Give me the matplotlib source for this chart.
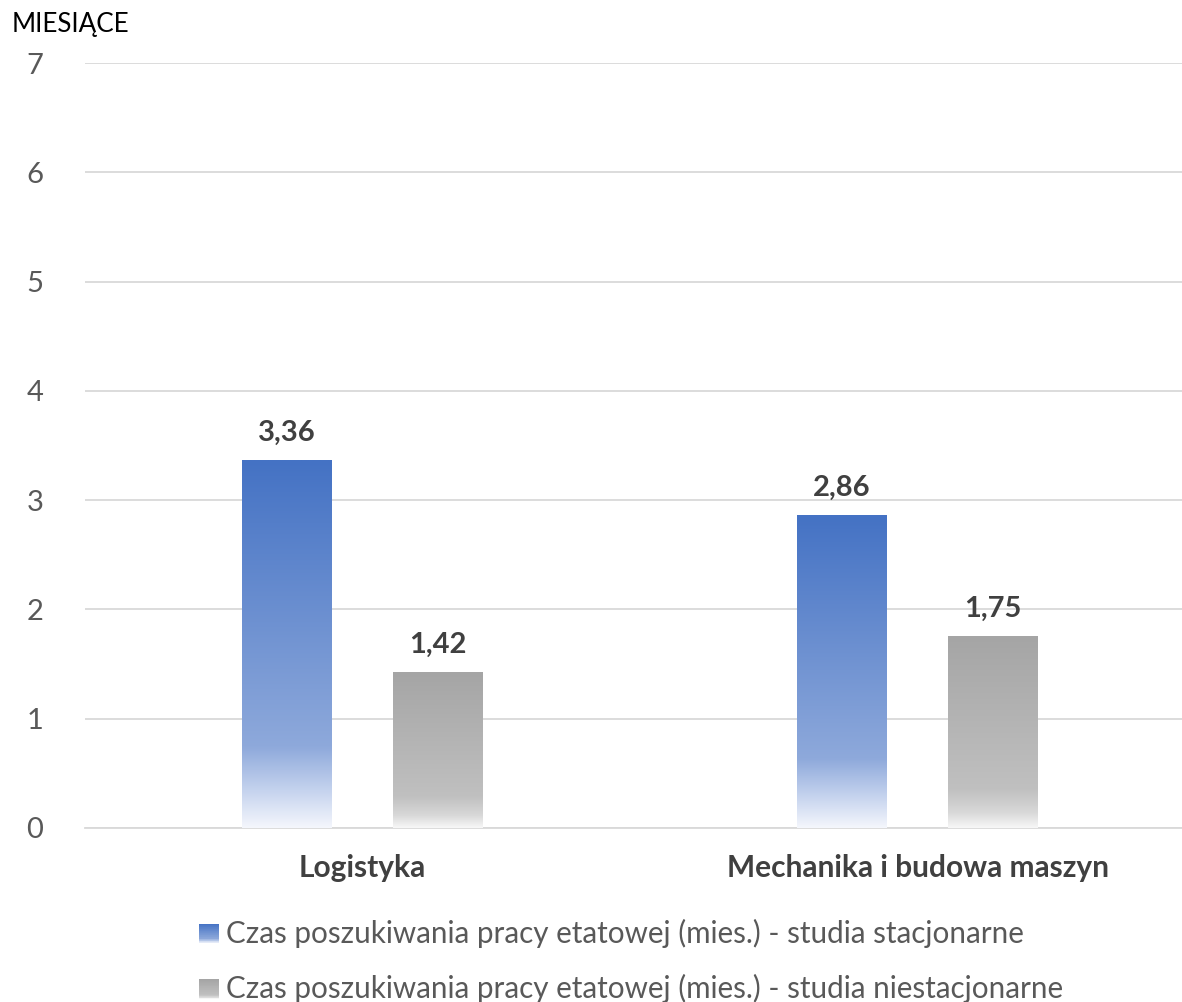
import numpy as np
import matplotlib.pyplot as plt
from matplotlib.colors import to_rgb
from matplotlib.patches import Rectangle, Patch
from matplotlib.legend_handler import HandlerBase

plt.rcParams['font.family'] = ['Lato', 'DejaVu Sans']

# data
categories = ["Logistyka", "Mechanika i budowa maszyn"]
stacjonarne = [3.36, 2.86]
niestacjonarne = [1.42, 1.75]
series_names = ["Czas poszukiwania pracy etatowej (mies.) - studia stacjonarne",
                "Czas poszukiwania pracy etatowej (mies.) - studia niestacjonarne"]

# gradient stops (fraction from bottom, colour)
blue_stops = [(0.0, "#F4F6FC"), (0.1, "#C5D3EE"), (0.22, "#8EA9DB"), (1.0, "#4472C4")]
gray_stops = [(0.0, "#F7F7F7"), (0.08, "#D8D8D8"), (0.2, "#C0C0C0"), (1.0, "#A5A5A5")]


def gradient(stops, n=200):
    pos = np.array([s[0] for s in stops])
    cols = np.array([to_rgb(s[1]) for s in stops])
    t = np.linspace(0, 1, n)
    rgb = np.stack([np.interp(t, pos, cols[:, i]) for i in range(3)], axis=1)
    return rgb[::-1][:, None, :]  # top row first


def grad_bar(ax, x, w, h, stops):
    ax.imshow(gradient(stops), extent=(x - w / 2, x + w / 2, 0, h),
              aspect='auto', zorder=3, interpolation='bilinear')


class GradHandler(HandlerBase):
    def __init__(self, stops):
        super().__init__()
        self.stops = stops

    def create_artists(self, legend, orig, xd, yd, width, height, fontsize, trans):
        size = min(width, height) * 0.95
        x0 = xd + width - size
        y0 = yd + (height - size) / 2 - 1
        rgb = gradient(self.stops, 30)[:, 0, :]
        arts = []
        n = len(rgb)
        for i, c in enumerate(rgb):
            r = Rectangle((x0, y0 + size - (i + 1) * size / n), size, size / n + 0.2,
                          facecolor=c, edgecolor='none', transform=trans)
            arts.append(r)
        return arts


fig = plt.figure(figsize=(11.82, 10.02), dpi=100)
ax = fig.add_axes([85 / 1182, 0.1737, 1110 / 1182, 0.7633])

x = np.arange(len(categories))
bw = 0.162
off = 0.136
for i in range(len(categories)):
    grad_bar(ax, x[i] - off, bw, stacjonarne[i], blue_stops)
    grad_bar(ax, x[i] + off, bw, niestacjonarne[i], gray_stops)
    for xx, v in [(x[i] - off, stacjonarne[i]), (x[i] + off, niestacjonarne[i])]:
        ax.annotate(f"{v:.2f}".replace(".", ","), (xx, v), xytext=(0, 20),
                    textcoords='offset points', ha='center', va='center',
                    fontsize=21, fontweight='bold', color='#404040')

ax.set_xlim(-0.5, 1.5)
ax.set_ylim(0, 7)
ax.set_yticks(range(0, 8))
ax.set_xticks(x)
ax.set_xticklabels(categories, fontsize=21.5, fontweight='bold', color='#404040')
ax.tick_params(axis='y', labelsize=21, labelcolor='#595959', length=0, pad=30)
ax.tick_params(axis='x', length=0, pad=19)
ax.grid(axis='y', color='#D9D9D9', linewidth=1.3, zorder=0)
ax.set_axisbelow(True)
for s in ['top', 'right', 'left']:
    ax.spines[s].set_visible(False)
ax.spines['bottom'].set_color('#D9D9D9')
ax.spines['bottom'].set_linewidth(1.3)

fig.text(0.010, 0.976, "MIESIĄCE", fontsize=18.7, color='black', va='center', ha='left')

h1 = Patch(label=series_names[0])
h2 = Patch(label=series_names[1])
fig.legend([h1, h2], series_names, loc='center left', bbox_to_anchor=(170 / 1182, 0.041),
           ncol=1, frameon=False, fontsize=21.3, labelcolor='#595959',
           handler_map={h1: GradHandler(blue_stops), h2: GradHandler(gray_stops)},
           handlelength=0.75, handletextpad=0.25, labelspacing=0.9)

fig.savefig("out.png", dpi=100)
